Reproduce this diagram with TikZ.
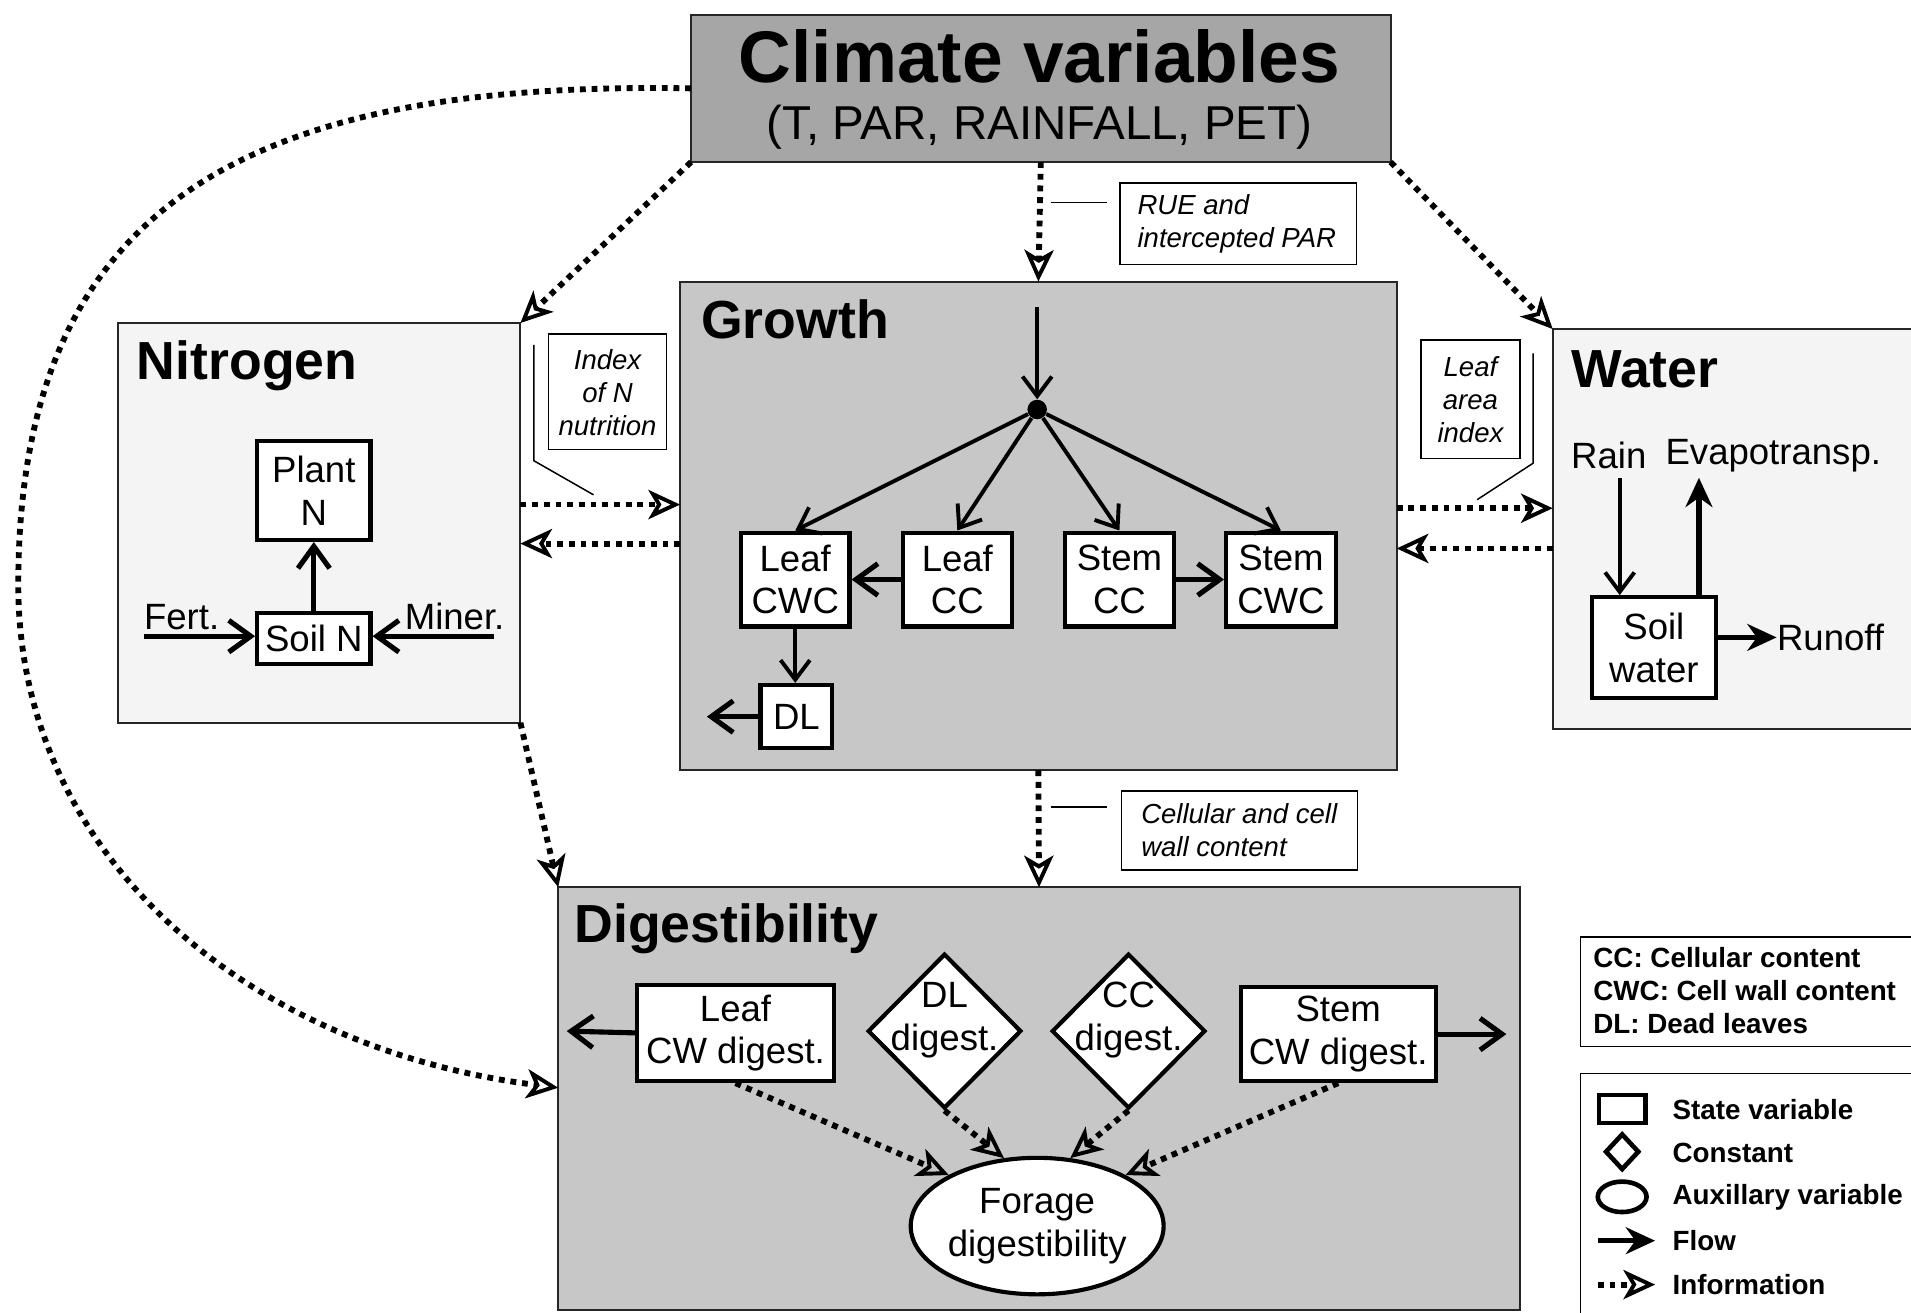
\documentclass[tikz,border=0pt]{standalone}
\usepackage{fontspec}
\setmainfont{Liberation Sans}
\usetikzlibrary{arrows.meta,shapes.geometric,calc}
\definecolor{climfill}{gray}{0.65}
\definecolor{modfill}{gray}{0.78}
\definecolor{sidefill}{gray}{0.955}
\begin{document}
\begin{tikzpicture}[x=0.5pt,y=-0.5pt,
  module/.style={draw=black!85, line width=0.8pt, inner sep=0pt, outer sep=0pt},
  svar/.style={draw, line width=1.7pt, fill=white, inner sep=0pt, align=center,
    font=\fontsize{15}{17.5}\selectfont},
  txt/.style={inner sep=0pt, align=center, font=\fontsize{15}{17.5}\selectfont},
  title/.style={inner sep=0pt, anchor=west, font=\fontsize{22}{26}\selectfont\bfseries},
  flow/.style={line width=1.6pt, -{Straight Barb[length=8pt,width=12pt,line width=1.6pt]}},
  tflow/.style={line width=2.1pt, -{Straight Barb[length=9pt,width=13pt,line width=2.1pt]}},
  sflow/.style={line width=2.1pt, -{Stealth[length=12pt,width=11pt]}},
  info/.style={line width=2.4pt, dash pattern=on 2.4pt off 2.4pt,
    -{Stealth[open,length=13pt,width=12pt,inset=3.5pt,line width=1.6pt]}},
  lblbox/.style={draw, line width=0.6pt, fill=white, inner sep=0pt},
  lbltxt/.style={inner sep=0pt, font=\fontsize{11.3}{13.5}\selectfont\itshape},
  leader/.style={line width=0.6pt},
  legtxt/.style={inner sep=0pt, anchor=west, font=\fontsize{11.4}{13.5}\selectfont\bfseries}
]
\useasboundingbox (0,0) rectangle (1568,1077);
\fill[white] (0,0) rectangle (1568,1077);

% ---------- modules ----------
\node[module, fill=climfill, minimum width=287pt, minimum height=60.5pt] (clim) at (854,72.5) {};
\node[inner sep=0pt, font=\fontsize{30}{34}\selectfont\bfseries] (climt) at (853,46) {Climate variables};
\node[inner sep=0pt, font=\fontsize{19.5}{22}\selectfont] (clims) at (853,104) {(T, PAR, RAINFALL, PET)};

\node[module, fill=modfill, minimum width=294pt, minimum height=200.5pt] (growth) at (852,431.5) {};
\node[title] (growtht) at (575,262) {Growth};

\node[module, fill=sidefill, minimum width=165pt, minimum height=164pt] (nitro) at (262,429) {};
\node[title] (nitrot) at (112,300) {Nitrogen};

\node[module, fill=sidefill, minimum width=153pt, minimum height=164pt] (water) at (1427,434) {};
\node[title] (watert) at (1289,303) {Water};

\node[module, fill=modfill, minimum width=394.5pt, minimum height=173.5pt] (digest) at (852.5,901.5) {};
\node[title] (digestt) at (471,762) {Digestibility};

% ---------- growth internals ----------
\node[circle, fill=black, inner sep=0pt, minimum size=8pt] (dot) at (851,336) {};
\coordinate (gin) at (851,252);
\node[svar, minimum width=44.5pt, minimum height=38.5pt] (lcwc) at (652.5,475.5) {Leaf\\CWC};
\node[svar, minimum width=44.5pt, minimum height=38.5pt] (lcc) at (785.5,475.5) {Leaf\\CC};
\node[svar, minimum width=44.5pt, minimum height=38.5pt] (scc) at (918.5,475.5) {Stem\\CC};
\node[svar, minimum width=45pt, minimum height=38.5pt] (scwc) at (1051,475.5) {Stem\\CWC};
\node[svar, minimum width=29.5pt, minimum height=26pt] (dl) at (653.5,588) {DL};
\coordinate (dlout) at (580,588);
\draw[flow] (gin) -- (dot);
\draw[flow] (dot) -- (lcwc.north);
\draw[flow] (dot) -- (lcc.north);
\draw[flow] (dot) -- (scc.north);
\draw[flow] (dot) -- (scwc.north);
\draw[tflow] (lcc) -- (lcwc);
\draw[tflow] (scc) -- (scwc);
\draw[flow] (lcwc.south) -- (lcwc.south |- dl.north);
\draw[tflow] (dl) -- (dlout);

% ---------- nitrogen internals ----------
\node[svar, minimum width=46.5pt, minimum height=40.5pt] (plantn) at (257.5,402.5) {Plant\\N};
\node[svar, minimum width=46.5pt, minimum height=21pt] (soiln) at (257.5,524) {Soil N};
\node[txt] (fert) at (149,506) {Fert.};
\node[txt] (miner) at (373,506) {Miner.};
\coordinate (fertst) at (118,522);
\coordinate (minerst) at (405,522);
\draw[tflow] (soiln) -- (plantn);
\draw[tflow] (fertst) -- (fertst -| soiln.west);
\draw[tflow] (minerst) -- (minerst -| soiln.east);

% ---------- water internals ----------
\node[txt] (rain) at (1320,374) {Rain};
\node[txt] (evap) at (1455,374) {Evapotransp.};
\node[svar, minimum width=51pt, minimum height=41.5pt] (soilw) at (1357,531.5) {Soil\\water};
\node[txt] (runoff) at (1502,523) {Runoff};
\coordinate (rainst) at (1329,392);
\coordinate (evend) at (1394,392);
\draw[flow] (rainst) -- (rainst |- soilw.north);
\draw[sflow] (evend |- soilw.north) -- (evend);
\draw[sflow] (soilw.east |- runoff) -- (runoff.west);

% ---------- digestibility internals ----------
\node[svar, minimum width=80.5pt, minimum height=39.5pt] (lcwd) at (603.5,847.5) {Leaf\\CW digest.};
\node[svar, minimum width=80pt, minimum height=38.5pt] (scwd) at (1098,848.5) {Stem\\CW digest.};
\node[diamond, draw, line width=1.7pt, fill=white, inner sep=0pt, minimum width=63pt, minimum height=63.5pt] (dld) at (775,846) {};
\node[txt] (dldt) at (775,837) {DL\\digest.};
\node[diamond, draw, line width=1.7pt, fill=white, inner sep=0pt, minimum width=63pt, minimum height=63.5pt] (ccd) at (926,846) {};
\node[txt] (ccdt) at (926,837) {CC\\digest.};
\node[ellipse, draw, line width=1.7pt, fill=white, inner sep=0pt, minimum width=98pt, minimum height=56pt, align=center, font=\fontsize{15}{17.5}\selectfont] (forage) at (851,1006) {Forage\\digestibility};
\coordinate (lcwout) at (465,846);
\coordinate (scwout) at (1236,848.5);
\draw[tflow] (lcwd.west) -- (lcwout);
\draw[tflow] (scwd.east) -- (scwout);
\draw[info] (lcwd.south) -- (forage.150);
\draw[info] (dld.south) -- (forage.116);
\draw[info] (ccd.south) -- (forage.64);
\draw[info] (scwd.south) -- (forage.30);

% ---------- information links between modules ----------
\coordinate (ya) at (0,414);
\coordinate (yb) at (0,446);
\coordinate (yc) at (0,417);
\coordinate (yd) at (0,450);
\draw[info] (clim.south) -- (growth.north);
\draw[info] (clim.south west) -- (nitro.north east);
\draw[info] (clim.south east) -- (water.north west);
\draw[info] (clim.west) .. controls (200,66) and (15,170) .. (15,480)
  .. controls (15,700) and (200,860) .. ([yshift=4.5pt]digest.west);
\draw[info] (nitro.east |- ya) -- (growth.west |- ya);
\draw[info] (growth.west |- yb) -- (nitro.east |- yb);
\draw[info] (growth.east |- yc) -- (water.west |- yc);
\draw[info] (water.west |- yd) -- (growth.east |- yd);
\draw[info] (nitro.south east) -- (digest.north west);
\draw[info] (growth.south) -- (digest.north);

% ---------- labels ----------
\node[lblbox, minimum width=97pt, minimum height=33.5pt] (rue) at (1016,183.5) {};
\node[lbltxt, anchor=west, align=left] (ruet) at (933,184) {RUE and\\intercepted PAR};
\coordinate (rueA) at (862,166);
\coordinate (rueB) at (908,166);
\draw[leader] (rueA) -- (rueB);

\node[lblbox, minimum width=48.5pt, minimum height=47.5pt] (inn) at (498.5,321.5) {};
\node[lbltxt, align=center] (innt) at (498.5,322) {Index\\of N\\nutrition};
\coordinate (innA) at (438,283);
\coordinate (innB) at (438,378);
\coordinate (innC) at (487,406);
\draw[leader] (innA) -- (innB) -- (innC);

\node[lblbox, minimum width=40.5pt, minimum height=48.5pt] (lai) at (1206.5,327.5) {};
\node[lbltxt, align=center] (lait) at (1206.5,328) {Leaf\\area\\index};
\coordinate (laiA) at (1258,290);
\coordinate (laiB) at (1258,380);
\coordinate (laiC) at (1212,410);
\draw[leader] (laiA) -- (laiB) -- (laiC);

\node[lblbox, minimum width=97pt, minimum height=32.5pt] (cell) at (1017,681.5) {};
\node[lbltxt, anchor=west, align=left] (cellt) at (936,681) {Cellular and cell\\wall content};
\coordinate (cellA) at (862,662);
\coordinate (cellB) at (908,662);
\draw[leader] (cellA) -- (cellB);

% ---------- legend ----------
\node[draw, line width=0.7pt, inner sep=0pt, minimum width=142pt, minimum height=45pt, anchor=north west] (abbr) at (1296,768) {};
\node[inner sep=0pt, anchor=north west, align=left, font=\fontsize{11.4}{13.5}\selectfont\bfseries] (abbrt) at (1307,777) {CC: Cellular content\\CWC: Cell wall content\\DL: Dead leaves};

\node[draw, line width=0.7pt, inner sep=0pt, minimum width=142pt, minimum height=102pt, anchor=north west] (leg) at (1296,880) {};
\node[draw, line width=1.9pt, inner sep=0pt, minimum width=19pt, minimum height=11.5pt] (lgsq) at (1331,910) {};
\node[legtxt] (lgsqt) at (1372,910) {State variable};
\node[diamond, draw, line width=1.9pt, inner sep=0pt, minimum width=14pt, minimum height=15pt] (lgdi) at (1331,945) {};
\node[legtxt] (lgdit) at (1372,946) {Constant};
\node[ellipse, draw, line width=1.9pt, inner sep=0pt, minimum width=20pt, minimum height=12.5pt] (lgel) at (1331,982) {};
\node[legtxt] (lgelt) at (1372,982) {Auxillary variable};
\coordinate (lgf1) at (1311,1018);
\coordinate (lgf2) at (1358,1018);
\draw[sflow] (lgf1) -- (lgf2);
\node[legtxt] (lgft) at (1372,1018) {Flow};
\coordinate (lgi1) at (1311,1054);
\coordinate (lgi2) at (1358,1054);
\draw[info] (lgi1) -- (lgi2);
\node[legtxt] (lgit) at (1372,1054) {Information};
\end{tikzpicture}
\end{document}
